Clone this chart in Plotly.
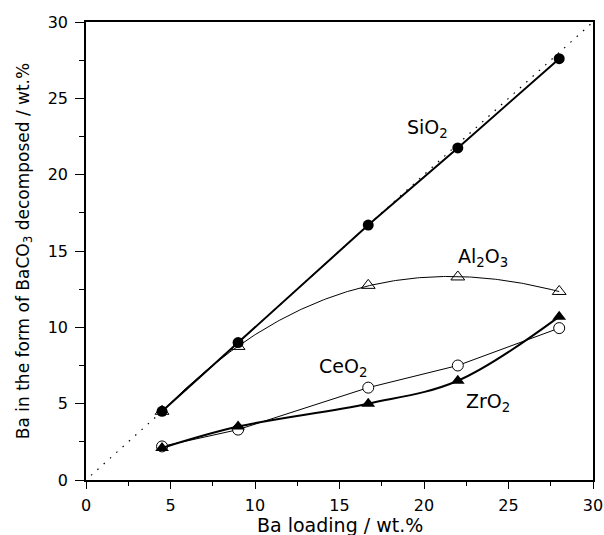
import numpy as np
import plotly.graph_objects as go

# Ba loading (wt.%) of the samples
ba_loading = [4.5, 9.0, 16.7, 22.0, 28.0]

# Ba present as BaCO3 that decomposed (wt.%), per support
sio2 = [4.5, 9.0, 16.7, 21.75, 27.6]
al2o3 = [4.5, 8.75, 12.75, 13.3, 12.35]
ceo2 = [2.2, 3.3, 6.05, 7.5, 9.95]
zro2 = [2.1, 3.5, 5.0, 6.5, 10.7]

# reference line y = x
diag_x = [0.3, 30.0]

FONT = "DejaVu Sans, Liberation Sans, Arial, sans-serif"

fig = go.Figure()

fig.add_trace(go.Scatter(x=diag_x, y=diag_x, mode="lines",
                         line=dict(color="black", width=1.2, dash="1.5px,7px"),
                         showlegend=False, hoverinfo="skip"))

# smooth cubic fit for the Al2O3 series
coef = np.polyfit(ba_loading, al2o3, 3)
fit_x = np.linspace(ba_loading[0], ba_loading[-1], 200)
fit_y = np.polyval(coef, fit_x)
fig.add_trace(go.Scatter(x=fit_x, y=fit_y, mode="lines",
                         line=dict(color="black", width=1),
                         showlegend=False, hoverinfo="skip"))
fig.add_trace(go.Scatter(x=ba_loading, y=al2o3, mode="markers",
                         marker=dict(symbol="triangle-up-open", size=12,
                                     color="black", line=dict(width=1)),
                         name="Al2O3", showlegend=False))

fig.add_trace(go.Scatter(x=ba_loading, y=ceo2, mode="lines+markers",
                         line=dict(color="black", width=1),
                         marker=dict(symbol="circle", size=11, color="white",
                                     line=dict(color="black", width=1)),
                         name="CeO2", showlegend=False))

fig.add_trace(go.Scatter(x=ba_loading, y=zro2, mode="lines+markers",
                         line=dict(color="black", width=2, shape="spline"),
                         marker=dict(symbol="triangle-up", size=12, color="black"),
                         name="ZrO2", showlegend=False))

fig.add_trace(go.Scatter(x=ba_loading, y=sio2, mode="lines+markers",
                         line=dict(color="black", width=2),
                         marker=dict(symbol="circle", size=11, color="black"),
                         name="SiO2", showlegend=False))

labels = [
    (20.2, 23.0, "SiO<sub>2</sub>"),
    (23.5, 14.6, "Al<sub>2</sub>O<sub>3</sub>"),
    (15.2, 7.4, "CeO<sub>2</sub>"),
    (23.8, 5.1, "ZrO<sub>2</sub>"),
]
for x, y, t in labels:
    fig.add_annotation(x=x, y=y, text=t, showarrow=False,
                       font=dict(family=FONT, size=19, color="black"))

# x-axis title placed just under the tick labels
fig.add_annotation(x=0.5, y=-0.098, xref="paper", yref="paper",
                   text="Ba loading / wt.%", showarrow=False,
                   xanchor="center", yanchor="middle",
                   font=dict(family=FONT, size=19, color="black"))

axis_common = dict(
    range=[0, 30], dtick=5, tick0=0, automargin=False,
    showline=True, linecolor="black", linewidth=1.5, mirror=True,
    ticks="outside", tickwidth=1, tickcolor="black",
    showgrid=False, zeroline=False,
    tickfont=dict(family=FONT, size=16, color="black"),
)

fig.update_xaxes(**axis_common, ticklen=7, ticklabelstandoff=3,
                 minor=dict(dtick=2.5, tick0=0, ticks="outside", ticklen=4,
                            tickcolor="black", tickwidth=1))
fig.update_yaxes(**axis_common, ticklen=9, ticklabelstandoff=4,
                 minor=dict(dtick=2.5, tick0=0, ticks="outside", ticklen=5,
                            tickcolor="black", tickwidth=1),
                 title=dict(text="Ba in the form of BaCO<sub>3</sub> decomposed / wt.%",
                            standoff=14,
                            font=dict(family=FONT, size=17, color="black")))

fig.update_layout(
    width=604, height=535,
    margin=dict(l=86, r=11, t=22, b=55),
    plot_bgcolor="white", paper_bgcolor="white",
    font=dict(family=FONT, color="black"),
)

fig.write_html("out.html")
